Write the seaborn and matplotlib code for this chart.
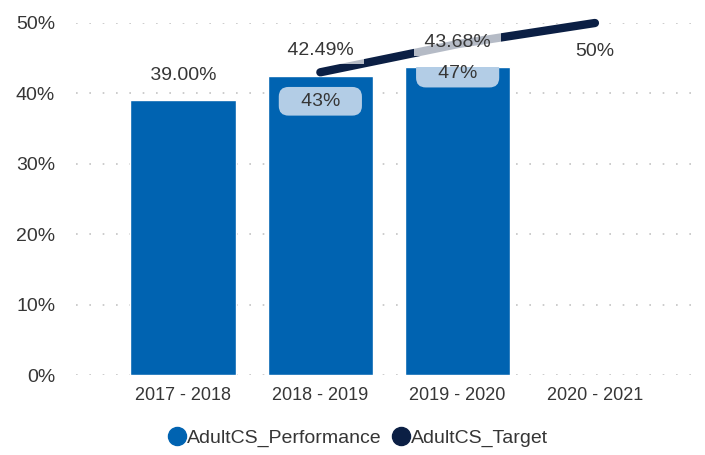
import numpy as np
import pandas as pd
import matplotlib.pyplot as plt
import seaborn as sns
from matplotlib.lines import Line2D

# data
seasons = ["2017 - 2018", "2018 - 2019", "2019 - 2020", "2020 - 2021"]
performance = [39.00, 42.49, 43.68, np.nan]
target = [np.nan, 43, 47, 50]
y_ticks = [0, 10, 20, 30, 40, 50]
series_names = ["AdultCS_Performance", "AdultCS_Target"]

bar_color = "#0063b1"
target_color = "#0b1f44"
box_color = "#b3cde6"
text_color = "#363636"

sns.set_style("white")
plt.rcParams["font.family"] = ["Liberation Sans", "DejaVu Sans"]

df = pd.DataFrame({"season": seasons, "performance": performance, "target": target})

fig = plt.figure(figsize=(7.05, 4.55), dpi=100)
ax = fig.add_axes([76 / 705, 1 - 375 / 455, 626 / 705, 352 / 455])

sns.barplot(data=df, x="season", y="performance", order=seasons, color=bar_color,
            saturation=1, width=0.77, errorbar=None, ax=ax, zorder=2)
bars = list(ax.patches)
sns.pointplot(data=df, x="season", y="target", order=seasons, color=target_color,
              markers="", errorbar=None, linewidth=6, solid_capstyle="round", ax=ax)
for ln in ax.lines:
    ln.set_clip_on(False)
    ln.set_zorder(3)

# bar value labels (semi transparent white box lightens the target line)
for i, v in enumerate(performance):
    if np.isnan(v):
        continue
    ax.annotate(f" {v:.2f}% ", (i, v), xytext=(0, 25), textcoords="offset pixels",
                ha="center", va="center", fontsize=14, color=text_color, zorder=5,
                bbox=dict(boxstyle="square,pad=0.25", fc="white", ec="none", alpha=0.7))

# target labels, the box is cut at the top of its bar
for i, v in enumerate(target):
    if np.isnan(v):
        continue
    inside = not np.isnan(performance[i])
    ann = ax.annotate(f"   {v:.0f}%   " if inside else f"{v:.0f}%", (i, v), xytext=(0, -29),
                      textcoords="offset pixels", ha="center", va="center", fontsize=14,
                      color=text_color, zorder=4,
                      bbox=dict(boxstyle="round,pad=0.3,rounding_size=0.5", fc=box_color, ec="none")
                      if inside else None)
    if inside:
        ann.get_bbox_patch().set_clip_path(bars[i])

ax.set_xlim(-0.78, 3.78)
ax.set_ylim(0, 50)
ax.set_yticks(y_ticks)
ax.set_yticklabels([f"{t}%" for t in y_ticks])
ax.yaxis.grid(True, linestyle=(0, (1, 7)), color="#c4c4c4", linewidth=1.2)
ax.set_axisbelow(True)
ax.tick_params(axis="y", length=0, pad=15, labelsize=14, labelcolor=text_color)
ax.tick_params(axis="x", length=0, pad=9, labelsize=13, labelcolor=text_color)
ax.set_xlabel("")
ax.set_ylabel("")
sns.despine(ax=ax, left=True, bottom=True)

handles = [Line2D([], [], marker="o", ls="", color=bar_color, markersize=13),
           Line2D([], [], marker="o", ls="", color=target_color, markersize=13)]
leg = fig.legend(handles, series_names, loc="center", bbox_to_anchor=(0.507, 1 - 438 / 455),
                 ncol=2, frameon=False, handletextpad=0.0, columnspacing=0.5,
                 handlelength=1.0, fontsize=14)
for t in leg.get_texts():
    t.set_color(text_color)

fig.savefig("out.png", dpi=100)
